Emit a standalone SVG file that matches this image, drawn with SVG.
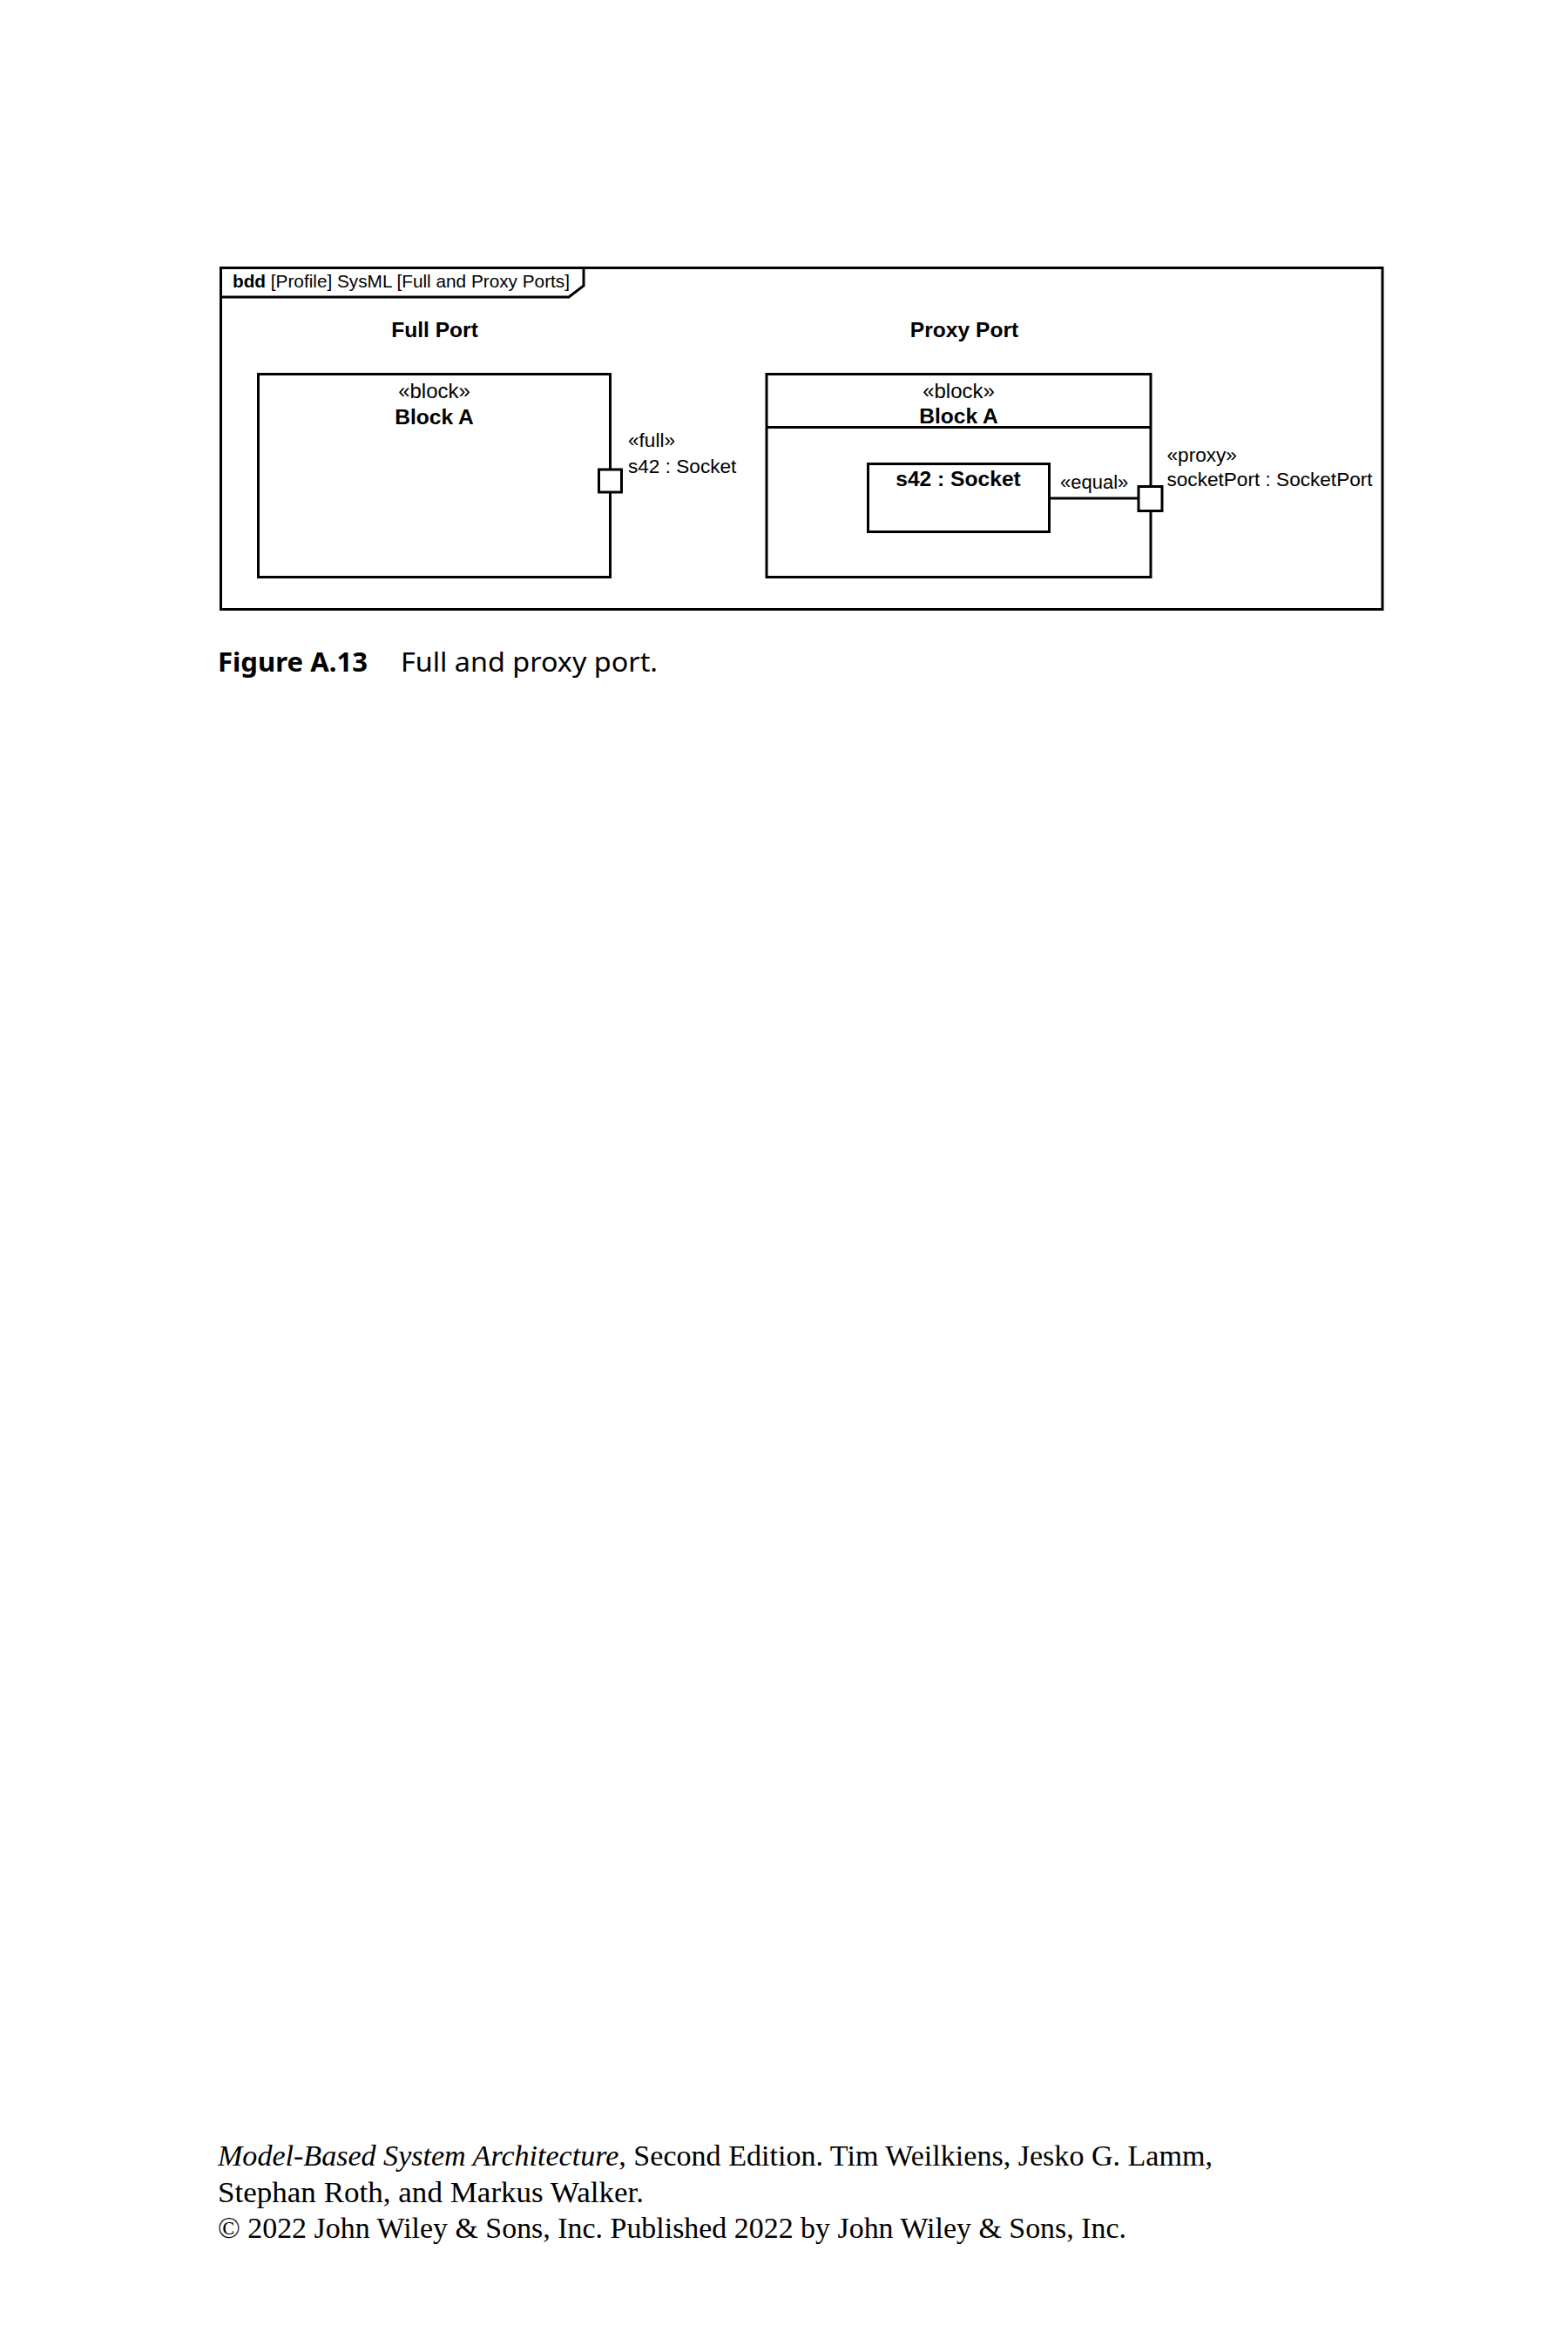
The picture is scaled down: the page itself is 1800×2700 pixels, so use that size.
<svg xmlns="http://www.w3.org/2000/svg" width="1800" height="2700" viewBox="0 0 1800 2700">
<style>
  .ln { fill: none; stroke: #000; stroke-width: 3; }
  .box { fill: #fff; stroke: #000; stroke-width: 3; }
  .t { font-family: "Liberation Sans", Arial, sans-serif; fill: #000; }
  .b { font-weight: bold; font-size: 24.6px; }
  .st { font-size: 24px; }
  .lb { font-size: 22.6px; }
  .mid { text-anchor: middle; }
  .cap { font-family: "Noto Sans", "Open Sans", sans-serif; font-size: 30px; fill: #000; }
  .ft { font-family: "Liberation Serif", "Times New Roman", serif; font-size: 33px; fill: #000; }
</style>
<rect x="0" y="0" width="1800" height="2700" fill="#fff"/>

<g id="frame">
  <rect class="ln" x="253.5" y="307.5" width="1333.5" height="392"/>
  <path class="ln" d="M253.5,341 H653 L670,328 V307.5"/>
  <text class="t" x="267" y="330" font-size="21px" textLength="387" lengthAdjust="spacingAndGlyphs"><tspan font-weight="bold">bdd</tspan> [Profile] SysML [Full and Proxy Ports]</text>
  <text class="t b mid" x="499" y="387">Full Port</text>
  <text class="t b mid" x="1107" y="387">Proxy Port</text>
</g>

<g id="full-block">
  <rect class="box" x="296.5" y="429.5" width="404" height="233"/>
  <text class="t st mid" x="498.5" y="457">«block»</text>
  <text class="t b mid" x="498.5" y="487">Block A</text>
</g>

<g id="full-port">
  <rect class="box" x="687.5" y="539" width="26" height="26"/>
  <text class="t lb" x="721" y="512.5">«full»</text>
  <text class="t lb" x="721" y="543">s42 : Socket</text>
</g>

<g id="proxy-block">
  <rect class="box" x="880" y="429.5" width="441" height="233"/>
  <line class="ln" x1="880" y1="490.5" x2="1321" y2="490.5"/>
  <text class="t st mid" x="1100.5" y="457">«block»</text>
  <text class="t b mid" x="1100.5" y="485.5">Block A</text>
</g>

<g id="part-s42">
  <rect class="box" x="996.5" y="532.5" width="208" height="78"/>
  <text class="t b mid" x="1100" y="558">s42 : Socket</text>
</g>

<g id="connectors">
  <line class="ln" x1="1204.5" y1="572" x2="1307" y2="572"/>
  <text class="t" x="1217" y="561" font-size="22px">«equal»</text>
</g>

<g id="proxy-port">
  <rect class="box" x="1307" y="558.5" width="27" height="28"/>
  <text class="t lb" x="1339.5" y="529.5">«proxy»</text>
  <text class="t lb" x="1339.5" y="558.3">socketPort : SocketPort</text>
</g>

<g id="caption">
  <text class="cap" x="250" y="771" font-weight="bold" textLength="172" lengthAdjust="spacingAndGlyphs">Figure A.13</text>
  <text class="cap" x="460" y="771" textLength="295" lengthAdjust="spacingAndGlyphs">Full and proxy port.</text>
</g>

<g id="footer">
  <text class="ft" x="250" y="2486" textLength="1142" lengthAdjust="spacingAndGlyphs"><tspan font-style="italic">Model-Based System Architecture</tspan>, Second Edition. Tim Weilkiens, Jesko G. Lamm,</text>
  <text class="ft" x="250" y="2527.5" textLength="489" lengthAdjust="spacingAndGlyphs">Stephan Roth, and Markus Walker.</text>
  <text class="ft" x="250" y="2569" textLength="1043" lengthAdjust="spacingAndGlyphs">© 2022 John Wiley &amp; Sons, Inc. Published 2022 by John Wiley &amp; Sons, Inc.</text>
</g>
</svg>
